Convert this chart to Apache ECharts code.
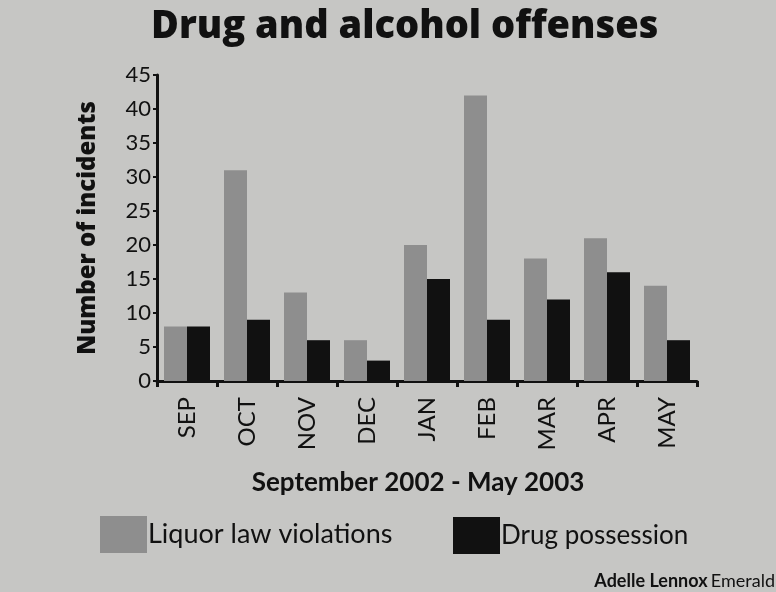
<!DOCTYPE html>
<html>
<head>
<meta charset="utf-8">
<script src="https://cdn.jsdelivr.net/npm/echarts@6/dist/echarts.min.js"></script>
<style>
html,body{margin:0;padding:0;background:#c6c6c4;}
#chart{width:776px;height:592px;}
</style>
</head>
<body>
<div id="chart"></div>
<script>
const months = ['SEP','OCT','NOV','DEC','JAN','FEB','MAR','APR','MAY'];
const liquorViolations = [8, 31, 13, 6, 20, 42, 18, 21, 14];
const drugPossession = [8, 9, 6, 3, 15, 9, 12, 16, 6];
const yTicks = [0, 5, 10, 15, 20, 25, 30, 35, 40, 45];

const FONT = 'Lato';
const chart = echarts.init(document.getElementById('chart'), null, {renderer: 'canvas'});
chart.setOption({
  backgroundColor: '#c6c6c4',
  animation: false,
  title: {
    text: 'Drug and alcohol offenses',
    left: 146,
    top: 3,
    textStyle: {fontFamily: 'Open Sans', fontWeight: 800, fontSize: 38, color: '#111'}
  },
  legend: [
    {
      data: ['Liquor law violations'],
      left: 95, top: 511,
      icon: 'rect',
      itemWidth: 47, itemHeight: 37, itemGap: 0,
      textStyle: {fontFamily: FONT, fontSize: 27, color: '#111', padding: [0,0,0,-4]}
    },
    {
      data: ['Drug possession'],
      left: 448, top: 512,
      icon: 'rect',
      itemWidth: 47, itemHeight: 37, itemGap: 0,
      textStyle: {fontFamily: FONT, fontSize: 26, color: '#111', padding: [0,0,0,-4]}
    }
  ],
  graphic: [
    {
      type: 'text', right: 1, top: 572,
      style: {
        text: '{b|Adelle Lennox} {r|Emerald}',
        rich: {
          b: {fontFamily: FONT, fontWeight: 'bold', fontSize: 18, fill: '#111'},
          r: {fontFamily: FONT, fontSize: 18, fill: '#111'}
        }
      }
    }
  ],
  grid: {left: 157, right: 79, top: 75, bottom: 211, containLabel: false},
  xAxis: {
    type: 'category',
    data: months,
    name: 'September 2002 - May 2003',
    nameLocation: 'middle',
    nameGap: 89,
    nameTextStyle: {fontFamily: FONT, fontWeight: 'bold', fontSize: 26, color: '#111', padding: [0, 18, 0, 0]},
    axisLine: {lineStyle: {color: '#111', width: 3}},
    axisTick: {show: true, length: 6, lineStyle: {color: '#111', width: 3}},
    axisLabel: {rotate: 90, margin: 16, fontFamily: FONT, fontSize: 24, color: '#111'}
  },
  yAxis: {
    type: 'value',
    min: yTicks[0], max: yTicks[yTicks.length - 1], interval: 5,
    name: 'Number of incidents',
    nameLocation: 'middle',
    nameGap: 57,
    nameTextStyle: {fontFamily: 'Open Sans', fontWeight: 800, fontSize: 24, color: '#111'},
    axisLine: {show: true, lineStyle: {color: '#111', width: 3}},
    axisTick: {show: true, length: 4, lineStyle: {color: '#111', width: 2}},
    axisLabel: {margin: 6, fontFamily: FONT, fontSize: 22, color: '#111'},
    splitLine: {show: false}
  },
  series: [
    {
      name: 'Liquor law violations',
      type: 'bar',
      data: liquorViolations,
      barWidth: 23,
      barGap: '0%',
      itemStyle: {color: '#8e8e8e'}
    },
    {
      name: 'Drug possession',
      type: 'bar',
      data: drugPossession,
      barWidth: 23,
      barGap: '0%',
      itemStyle: {color: '#111111'}
    }
  ]
});
</script>
</body>
</html>
